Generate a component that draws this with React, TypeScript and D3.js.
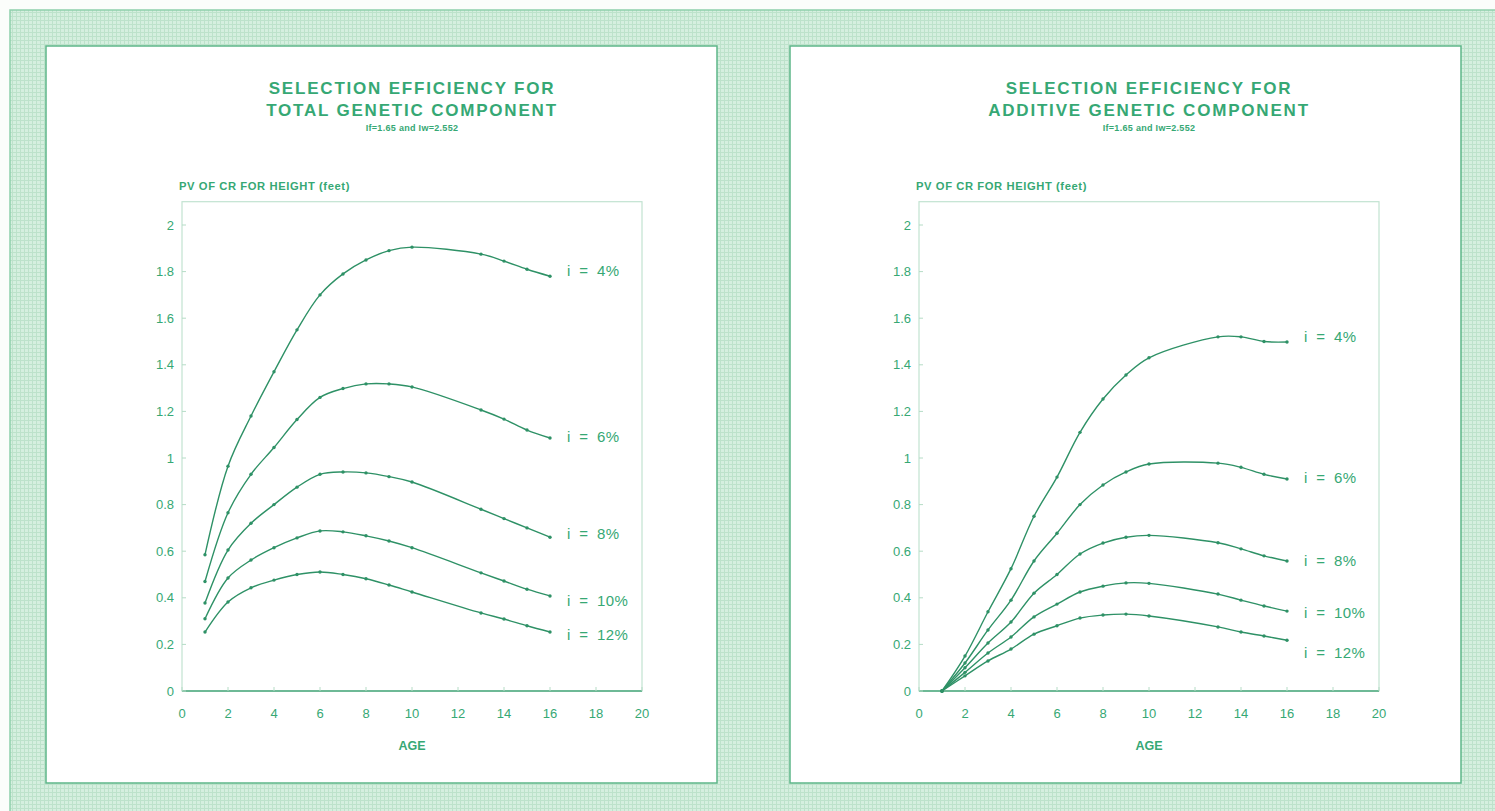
import React from "react";
import * as d3 from "d3";

const ages = [1, 2, 3, 4, 5, 6, 7, 8, 9, 10, 13, 14, 15, 16];
const seriesLabels = ["i = 4%", "i = 6%", "i = 8%", "i = 10%", "i = 12%"];

const totalI4 = [0.585, 0.965, 1.18, 1.37, 1.55, 1.7, 1.79, 1.85, 1.89, 1.905, 1.875, 1.845, 1.81, 1.78];
const totalI6 = [0.47, 0.765, 0.93, 1.045, 1.165, 1.26, 1.298, 1.318, 1.318, 1.305, 1.206, 1.167, 1.12, 1.086];
const totalI8 = [0.378, 0.605, 0.72, 0.8, 0.875, 0.93, 0.94, 0.936, 0.92, 0.897, 0.78, 0.74, 0.7, 0.66];
const totalI10 = [0.31, 0.485, 0.562, 0.615, 0.657, 0.687, 0.683, 0.666, 0.644, 0.615, 0.507, 0.472, 0.437, 0.408];
const totalI12 = [0.253, 0.382, 0.443, 0.476, 0.5, 0.511, 0.5, 0.482, 0.455, 0.425, 0.335, 0.309, 0.28, 0.253];

const addI4 = [0, 0.15, 0.34, 0.525, 0.75, 0.918, 1.11, 1.253, 1.356, 1.43, 1.52, 1.52, 1.5, 1.498];
const addI6 = [0, 0.12, 0.262, 0.39, 0.558, 0.677, 0.8, 0.884, 0.94, 0.974, 0.978, 0.96, 0.93, 0.91];
const addI8 = [0, 0.1, 0.206, 0.296, 0.42, 0.5, 0.588, 0.635, 0.66, 0.668, 0.636, 0.61, 0.58, 0.558];
const addI10 = [0, 0.08, 0.163, 0.232, 0.318, 0.373, 0.425, 0.45, 0.464, 0.462, 0.416, 0.39, 0.365, 0.343];
const addI12 = [0, 0.065, 0.129, 0.18, 0.244, 0.28, 0.313, 0.326, 0.33, 0.322, 0.275, 0.253, 0.236, 0.218];

const xTicks = [0, 2, 4, 6, 8, 10, 12, 14, 16, 18, 20];
const yTicks = [0, 0.2, 0.4, 0.6, 0.8, 1, 1.2, 1.4, 1.6, 1.8, 2];

const titleLine1 = "SELECTION EFFICIENCY FOR";
const leftTitleLine2 = "TOTAL GENETIC COMPONENT";
const rightTitleLine2 = "ADDITIVE GENETIC COMPONENT";
const subtitle = "If=1.65 and Iw=2.552";
const yLabel = "PV OF CR FOR HEIGHT (feet)";
const xLabel = "AGE";

const TEXT = "#36a874";
const LINE = "#2e9166";
const FONT = "'Liberation Sans', Arial, Helvetica, sans-serif";

type PanelProps = {
  px: number;
  plotLeft: number;
  line2: string;
  series: number[][];
  labelDy: number[];
};

function Panel({ px, plotLeft, line2, series, labelDy }: PanelProps) {
  const plotRight = plotLeft + 460;
  const x = d3.scaleLinear().domain([0, 20]).range([plotLeft, plotRight]);
  const y = d3.scaleLinear().domain([0, 2.1]).range([691, 691 - 2.1 * 233]);
  const line = d3
    .line<number>()
    .x((_, i) => x(ages[i]))
    .y((d) => y(d))
    .curve(d3.curveCatmullRom.alpha(0.5));
  const cx = (plotLeft + plotRight) / 2;
  return (
    <g>
      <rect x={px} y={46} width={671} height={737} fill="#ffffff" stroke="#5db689" strokeWidth={1.5} />
      <g fill={TEXT} fontFamily={FONT} fontWeight={700} textAnchor="middle">
        <text x={cx} y={94} fontSize={17} letterSpacing={1.8}>{titleLine1}</text>
        <text x={cx} y={116} fontSize={17} letterSpacing={1.8}>{line2}</text>
        <text x={cx} y={131} fontSize={9} letterSpacing={0.3}>{subtitle}</text>
      </g>
      <text x={plotLeft - 3} y={190} fill={TEXT} fontFamily={FONT} fontWeight={700} fontSize={11.2} letterSpacing={0.6}>
        {yLabel}
      </text>
      <rect x={plotLeft} y={y(2.1)} width={plotRight - plotLeft} height={y(0) - y(2.1)} fill="none" stroke="#c2e3d1" strokeWidth={1.2} />
      <line x1={plotLeft} x2={plotRight} y1={y(0)} y2={y(0)} stroke="#4aa77c" strokeWidth={1.3} />
      {yTicks.map((t) => (
        <g key={"y" + t}>
          <line x1={plotLeft} x2={plotLeft + 4} y1={y(t)} y2={y(t)} stroke="#b5dcc6" strokeWidth={1} />
          <text x={plotLeft - 8} y={y(t) + 4.5} fill={TEXT} fontFamily={FONT} fontSize={13} textAnchor="end">
            {String(t)}
          </text>
        </g>
      ))}
      {xTicks.map((t) => (
        <g key={"x" + t}>
          <line x1={x(t)} x2={x(t)} y1={y(0)} y2={y(0) - 4} stroke="#b5dcc6" strokeWidth={1} />
          <text x={x(t)} y={718} fill={TEXT} fontFamily={FONT} fontSize={13} textAnchor="middle">
            {String(t)}
          </text>
        </g>
      ))}
      <text x={x(10)} y={750} fill={TEXT} fontFamily={FONT} fontWeight={700} fontSize={12.5} textAnchor="middle">
        {xLabel}
      </text>
      {series.map((s, si) => (
        <g key={"s" + si}>
          <path d={line(s) || ""} fill="none" stroke={LINE} strokeWidth={1.4} />
          {s.map((v, i) => (
            <circle key={i} cx={x(ages[i])} cy={y(v)} r={1.7} fill={LINE} />
          ))}
          <text
            x={x(16) + 17}
            y={y(s[s.length - 1]) + labelDy[si]}
            fill={TEXT}
            fontFamily={FONT}
            fontSize={15}
            letterSpacing={0.4}
            wordSpacing={4}
          >
            {seriesLabels[si]}
          </text>
        </g>
      ))}
    </g>
  );
}

export default function App() {
  return (
    <svg width={1495} height={811} style={{ position: "absolute", left: 0, top: 0 }}>
      <defs>
        <pattern id="grid" width={4} height={4} patternUnits="userSpaceOnUse">
          <rect width={4} height={4} fill="#d5efdf" />
          <path d="M0 0.5H4M0.5 0V4" stroke="#bde2cb" strokeWidth={1} />
        </pattern>
      </defs>
      <rect x={0} y={0} width={1495} height={811} fill="#fbfdfb" />
      <rect x={10} y={10} width={1495} height={811} fill="url(#grid)" stroke="#8fcfac" strokeWidth={1.5} />
      <Panel
        px={46}
        plotLeft={182}
        line2={leftTitleLine2}
        series={[totalI4, totalI6, totalI8, totalI10, totalI12]}
        labelDy={[0, 4, 2, 10, 8]}
      />
      <Panel
        px={790}
        plotLeft={919}
        line2={rightTitleLine2}
        series={[addI4, addI6, addI8, addI10, addI12]}
        labelDy={[0, 4, 5, 7, 18]}
      />
    </svg>
  );
}
